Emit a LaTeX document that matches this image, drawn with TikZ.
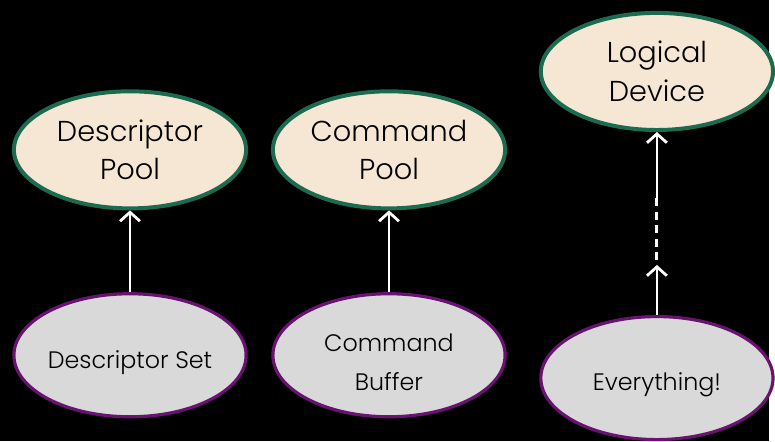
\documentclass[tikz,border=0pt]{standalone}
\usepackage{fontspec}
\setmainfont{Poppins Light}
\usetikzlibrary{arrows.meta,shapes.geometric}
\definecolor{beige}{HTML}{F5E7D4}
\definecolor{dgreen}{HTML}{1B6B50}
\definecolor{lgray}{HTML}{D9D9D9}
\definecolor{purp}{HTML}{6A1272}
\begin{document}
\begin{tikzpicture}[x=1pt,y=-1pt,
  topell/.style={ellipse, draw=dgreen, line width=4pt, fill=beige, minimum width=234pt, minimum height=118pt, inner sep=0pt, align=center, font=\fontsize{29}{39}\selectfont},
  botell/.style={ellipse, draw=purp, line width=3.2pt, fill=lgray, minimum width=234pt, minimum height=124pt, inner sep=0pt},
  bottxt/.style={align=center, inner sep=0pt, font=\fontsize{24}{39}\selectfont},
  link/.style={draw=white, line width=2.8pt, -{Straight Barb[length=9pt,width=20pt,line width=2.8pt]}}]
\fill[black] (0,0) rectangle (775,444);
\node[topell] (dp) at (131,151) {Descriptor\\Pool};
\node[topell] (cp) at (392,151) {Command\\Pool};
\node[topell] (ld) at (662,72) {Logical\\Device};
\node[botell] (ds) at (131,358) {};
\node[botell] (cb) at (392,358) {};
\node[botell] (ev) at (662,381) {};
\node[bottxt] (dst) at (131,365) {Descriptor Set};
\node[bottxt] (cbt) at (392,365) {Command\\Buffer};
\node[bottxt] (evt) at (662,388) {Everything!};
\coordinate (m1) at (662,267);
\coordinate (m2) at (662,200);
\draw[link] (ds) -- (dp);
\draw[link] (cb) -- (cp);
\draw[link] (ev) -- (m1);
\draw[draw=white, line width=3pt, dash pattern=on 8pt off 5.5pt] (m2) -- (m1);
\draw[link] (m2) -- (ld);
\end{tikzpicture}
\end{document}
